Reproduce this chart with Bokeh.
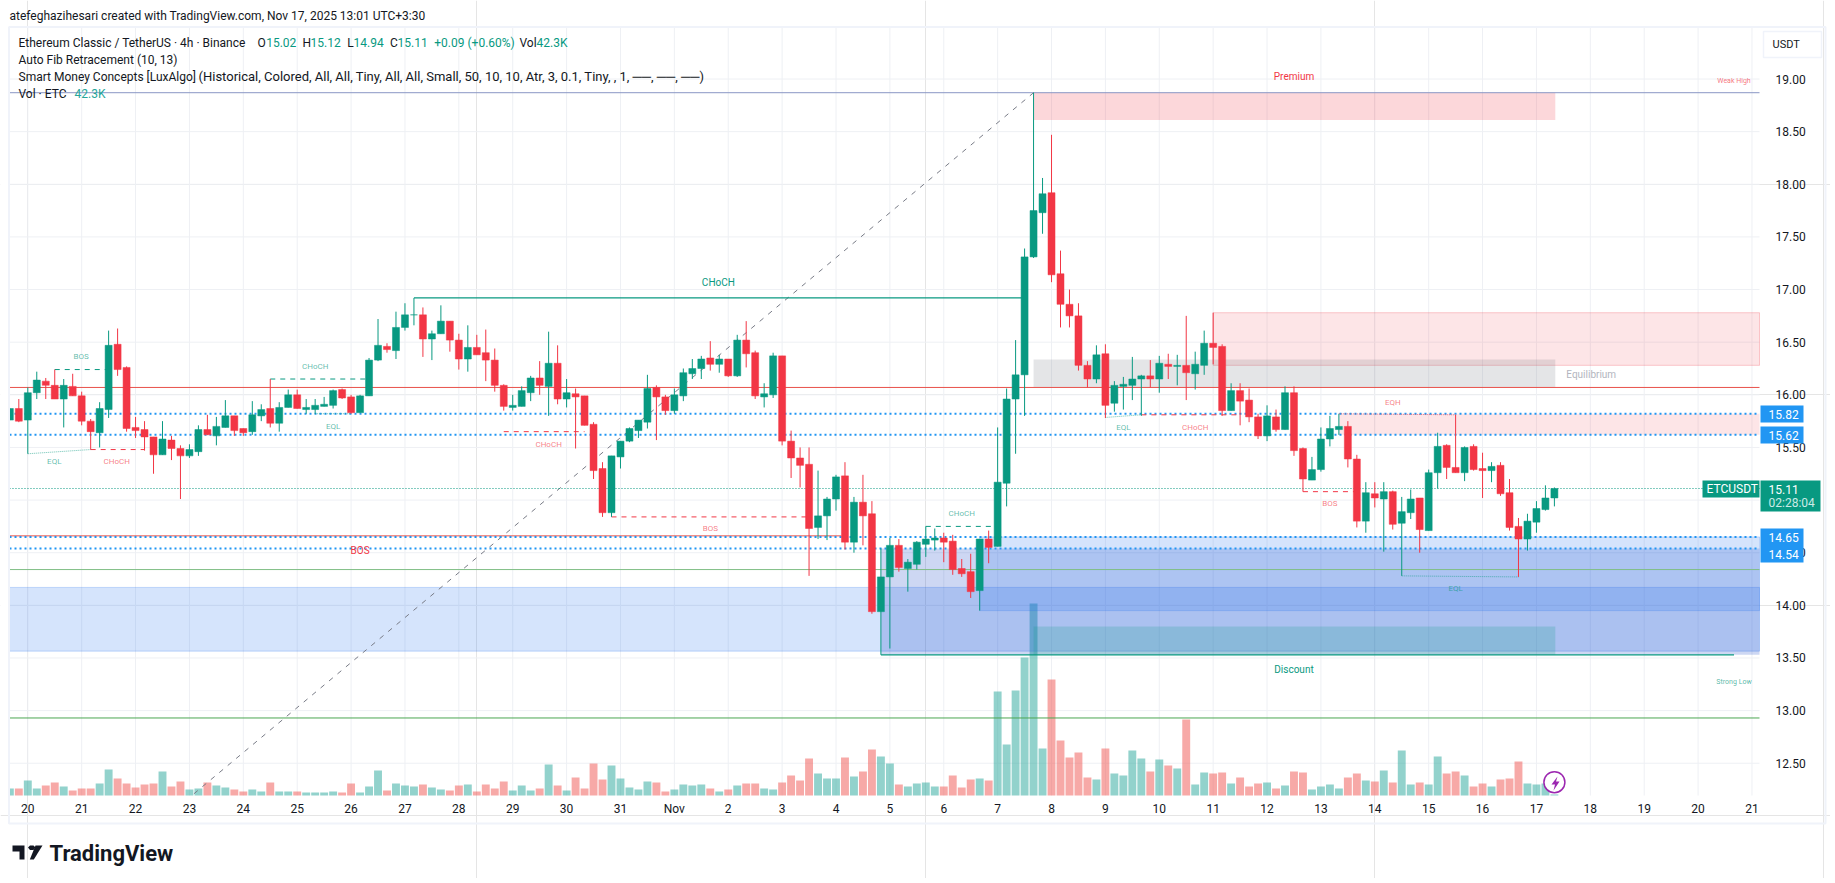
from bokeh.plotting import figure
from bokeh.models import (Range1d, FixedTicker, Label, LinearAxis, PolyAnnotation, ColumnDataSource)
from bokeh.core.properties import value
from bokeh.embed import file_html
from bokeh.resources import INLINE

# 4h candles of ETC/USDT, bar 0 is the Oct 20 open
bar_index = list(range(-2, 171))
opens = [15.76, 15.87, 15.76, 16.02, 16.13, 16.09, 15.96, 16.08, 15.99, 15.75, 15.64, 15.86, 16.48, 16.26, 15.69, 15.67, 15.60, 15.43, 15.57, 15.49, 15.42, 15.46, 15.67, 15.61, 15.69, 15.80, 15.68, 15.65, 15.80, 15.87, 15.73, 15.88, 16.00, 15.86, 15.86, 15.89, 15.90, 16.05, 15.98, 15.83, 15.99, 16.33, 16.46, 16.42, 16.64, 16.76, 16.76, 16.53, 16.58, 16.70, 16.52, 16.34, 16.45, 16.40, 16.33, 16.09, 15.88, 15.89, 16.02, 16.16, 16.08, 16.30, 15.96, 16.01, 15.99, 15.72, 15.30,
         14.88, 15.41, 15.56, 15.66, 15.74, 16.07, 15.98, 15.85, 15.99, 16.20, 16.25, 16.35, 16.29, 16.34, 16.18, 16.52, 16.40, 15.98, 16.00, 16.37, 15.56, 15.40, 15.34, 14.74, 14.85, 15.01, 15.23, 14.60, 14.98, 14.87, 13.94, 14.27, 14.57, 14.35, 14.39, 14.58, 14.62, 14.64, 14.61, 14.35, 14.32, 14.14, 14.63, 14.56, 15.16, 15.96, 16.19, 17.31, 17.73, 17.92, 17.15, 16.86, 16.75, 16.28, 16.15, 16.39, 15.92, 16.08, 16.09, 16.15, 16.18, 16.15, 16.29, 16.27, 16.28, 16.20, 16.28, 16.49, 16.46, 15.85, 16.04, 15.95, 15.79, 15.61, 15.79, 15.67, 16.02, 15.49, 15.19, 15.29, 15.58, 15.67, 15.70, 15.39, 14.80, 15.06, 15.01, 15.08, 14.78, 14.88, 15.02, 14.71, 15.26, 15.52, 15.31, 15.26, 15.51, 15.30, 15.28, 15.33, 15.07, 14.75, 14.63, 14.79, 14.91, 15.02]
highs = [15.87, 15.96, 16.07, 16.22, 16.16, 16.24, 16.15, 16.20, 16.03, 15.77, 15.93, 16.61, 16.63, 16.27, 15.79, 15.75, 15.60, 15.75, 15.61, 15.52, 15.53, 15.71, 15.81, 15.79, 15.95, 15.80, 15.68, 15.94, 15.91, 16.15, 15.93, 16.05, 16.05, 15.96, 15.96, 15.98, 16.05, 16.06, 16.00, 16.00, 16.35, 16.72, 16.49, 16.79, 16.87, 16.92, 16.83, 16.61, 16.85, 16.70, 16.58, 16.66, 16.57, 16.62, 16.44, 16.10, 16.00, 16.08, 16.18, 16.32, 16.60, 16.47, 16.15, 16.06, 15.99, 15.74, 15.36,
         15.42, 15.56, 15.69, 15.76, 16.19, 16.09, 16.00, 16.06, 16.25, 16.34, 16.37, 16.51, 16.38, 16.34, 16.57, 16.70, 16.42, 16.11, 16.40, 16.37, 15.66, 15.50, 15.50, 15.28, 15.03, 15.24, 15.36, 15.03, 15.24, 14.99, 14.54, 14.64, 14.63, 14.44, 14.61, 14.75, 14.73, 14.69, 14.67, 14.44, 14.49, 14.63, 14.71, 15.69, 16.06, 16.52, 17.39, 18.87, 18.06, 18.47, 17.37, 17.00, 16.87, 16.32, 16.47, 16.48, 16.13, 16.17, 16.36, 16.19, 16.33, 16.37, 16.39, 16.38, 16.75, 16.41, 16.61, 16.78, 16.48, 16.11, 16.11, 16.06, 15.82, 15.90, 15.86, 16.08, 16.08, 15.50, 15.41, 15.69, 15.80, 15.82, 15.75, 15.43, 15.17, 15.17, 15.17, 15.09, 15.03, 15.10, 15.02, 15.29, 15.64, 15.53, 15.81, 15.51, 15.53, 15.45, 15.36, 15.36, 15.20, 14.83, 14.87, 14.99, 15.14, 15.12]
lows = [15.76, 15.74, 15.44, 15.96, 15.96, 15.96, 15.69, 15.99, 15.71, 15.48, 15.50, 15.78, 16.18, 15.65, 15.59, 15.47, 15.25, 15.43, 15.38, 15.01, 15.40, 15.42, 15.62, 15.52, 15.69, 15.61, 15.61, 15.62, 15.75, 15.69, 15.65, 15.88, 15.87, 15.82, 15.82, 15.89, 15.87, 15.96, 15.82, 15.83, 15.99, 16.32, 16.40, 16.34, 16.61, 16.66, 16.36, 16.33, 16.58, 16.41, 16.24, 16.22, 16.38, 16.13, 16.03, 15.85, 15.85, 15.89, 15.94, 16.00, 15.80, 15.91, 15.88, 15.49, 15.71, 15.20, 14.84,
        14.84, 15.30, 15.55, 15.59, 15.68, 15.57, 15.81, 15.82, 15.94, 16.15, 16.15, 16.23, 16.21, 16.17, 16.17, 16.26, 15.96, 15.88, 15.97, 15.52, 15.21, 15.12, 14.28, 14.63, 14.62, 14.90, 14.53, 14.50, 14.57, 13.92, 13.53, 13.59, 14.32, 14.13, 14.34, 14.46, 14.52, 14.41, 14.29, 14.27, 14.07, 13.95, 14.40, 14.56, 14.94, 15.44, 15.80, 17.30, 17.53, 17.07, 16.64, 16.64, 16.23, 16.07, 16.11, 15.78, 15.84, 15.86, 15.95, 15.80, 16.07, 16.02, 16.15, 16.09, 15.95, 16.05, 16.19, 16.29, 15.80, 15.85, 15.71, 15.74, 15.58, 15.56, 15.65, 15.67, 15.42, 15.08, 15.19, 15.27, 15.51, 15.62, 15.31, 14.74, 14.69, 14.93, 14.51, 14.72, 14.28, 14.82, 14.50, 14.71, 15.11, 15.20, 15.26, 15.18, 15.28, 15.02, 15.17, 15.04, 14.71, 14.27, 14.52, 14.69, 14.90, 14.94]
closes = [15.87, 15.75, 16.02, 16.14, 16.09, 15.96, 16.09, 15.99, 15.75, 15.65, 15.87, 16.47, 16.24, 15.68, 15.66, 15.60, 15.43, 15.58, 15.49, 15.42, 15.48, 15.67, 15.62, 15.70, 15.80, 15.66, 15.64, 15.81, 15.86, 15.73, 15.88, 16.00, 15.87, 15.88, 15.90, 15.91, 16.04, 15.97, 15.83, 15.99, 16.33, 16.47, 16.43, 16.64, 16.76, 16.76, 16.53, 16.58, 16.70, 16.52, 16.34, 16.45, 16.38, 16.33, 16.09, 15.89, 15.90, 16.04, 16.16, 16.09, 16.30, 15.96, 16.02, 15.98, 15.71, 15.28, 14.88,
          15.42, 15.56, 15.68, 15.76, 16.06, 15.98, 15.85, 16.00, 16.21, 16.25, 16.34, 16.29, 16.34, 16.18, 16.52, 16.39, 15.99, 16.01, 16.37, 15.56, 15.40, 15.33, 14.73, 14.85, 15.01, 15.22, 14.60, 14.98, 14.85, 13.94, 14.27, 14.57, 14.36, 14.41, 14.60, 14.63, 14.64, 14.60, 14.34, 14.30, 14.13, 14.63, 14.55, 15.17, 15.96, 16.19, 17.31, 17.75, 17.91, 17.14, 16.86, 16.75, 16.28, 16.15, 16.38, 15.90, 16.09, 16.10, 16.15, 16.18, 16.15, 16.30, 16.27, 16.28, 16.21, 16.29, 16.49, 16.45, 15.85, 16.04, 15.94, 15.79, 15.61, 15.80, 15.67, 16.02, 15.47, 15.20, 15.29, 15.58, 15.68, 15.70, 15.39, 14.80, 15.07, 15.02, 15.08, 14.77, 14.89, 15.01, 14.72, 15.26, 15.51, 15.31, 15.26, 15.50, 15.29, 15.28, 15.32, 15.06, 14.74, 14.63, 14.80, 14.92, 15.02, 15.11]
volumes_k = [273, 273, 585, 273, 390, 507, 351, 195, 273, 273, 468, 1014, 663, 468, 312, 429, 468, 936, 351, 546, 234, 273, 507, 390, 312, 234, 156, 234, 156, 507, 156, 156, 156, 117, 117, 117, 156, 117, 468, 117, 351, 975, 195, 468, 390, 351, 429, 312, 234, 195, 390, 429, 156, 429, 273, 546, 195, 390, 195, 273, 1209, 390, 195, 702, 273, 1248, 624,
             1170, 663, 312, 234, 546, 507, 156, 234, 429, 390, 429, 273, 156, 234, 390, 468, 468, 273, 234, 507, 780, 585, 1443, 858, 663, 663, 1482, 741, 936, 1794, 1521, 1248, 429, 351, 468, 507, 351, 351, 780, 312, 624, 663, 585, 4056, 1989, 4095, 5382, 7488, 1833, 4524, 2145, 1482, 1677, 702, 624, 1833, 858, 780, 1755, 1443, 936, 1404, 1170, 1053, 2964, 429, 897, 858, 897, 468, 702, 351, 468, 507, 273, 390, 936, 897, 234, 351, 429, 273, 702, 858, 585, 546, 975, 507, 1755, 429, 507, 429, 1521, 858, 936, 780, 351, 468, 351, 624, 663, 1326, 468, 429, 468, 42.3]

tick_labels = ["20", "21", "22", "23", "24", "25", "26", "27", "28", "29", "30", "31", "Nov", "2", "3", "4", "5", "6", "7", "8", "9", "10",
               "11", "12", "13", "14", "15", "16", "17", "18", "19", "20", "21"]
price_ticks = [12.5, 13.0, 13.5, 14.0, 14.5, 15.0, 15.5, 16.0, 16.5, 17.0, 17.5, 18.0, 18.5, 19.0]

UP = "#089981"
DOWN = "#F23645"
FONT = "Roboto"
INK = "#131722"
GRID = "#EEF0F4"

FIG_W, FIG_H = 1830, 878

# annotations get clipped to the frame, so the frame covers the whole page and the
# chart pane is only the part between these limits
PANE_L, PANE_R = -2.038, 192.84
PANE_B, PANE_T = 12.193, 19.489

p = figure(width=FIG_W, height=FIG_H, output_backend="svg", toolbar_location=None,
           x_range=Range1d(-3.04, 200.746), y_range=Range1d(11.405, 19.746),
           x_axis_location=None, y_axis_location=None, min_border=0, outline_line_color=None,
           background_fill_color="white", border_fill_color="white")
p.extra_y_ranges = {"vol": Range1d(-3237, 31005)}

# axes
day_ticks = [6 * n for n in range(len(tick_labels))]
xaxis = LinearAxis(fixed_location=PANE_B, ticker=FixedTicker(ticks=day_ticks),
                   major_label_overrides=dict(zip(day_ticks, tick_labels)), major_label_standoff=0)
yaxis = LinearAxis(fixed_location=PANE_R, ticker=FixedTicker(ticks=price_ticks),
                   major_label_overrides={t: f"{t:.2f}" for t in price_ticks}, major_label_standoff=10)
for ax in (xaxis, yaxis):
    ax.axis_line_color = None
    ax.major_tick_line_color = None
    ax.minor_tick_line_color = None
    ax.major_label_text_font = FONT
    ax.major_label_text_font_size = "12px"
    ax.major_label_text_color = INK
p.add_layout(xaxis, "below")
p.add_layout(yaxis, "right")

p.segment(day_ticks, PANE_B, day_ticks, PANE_T, line_color=GRID, line_width=1)
p.segment(PANE_L, price_ticks, PANE_R, price_ticks, line_color=GRID, line_width=1)

# volume goes under the zones
vol_src = ColumnDataSource(dict(
    x=bar_index, top=volumes_k,
    color=["#26A69A" if c >= o else "#EF5350" for o, c in zip(opens, closes)]))
p.vbar(x="x", top="top", bottom=0, width=0.88, fill_color="color", line_color=None, fill_alpha=0.5,
       source=vol_src, y_range_name="vol")

# zones: left bar, right bar, top price, bottom price
zones = [
    (PANE_L, PANE_R, 14.17, 13.565, "#2E78F0", 0.2, "#2E78F0"),
    (95, PANE_R, 14.54, 13.53, "#0537C3", 0.2, None),
    (106, PANE_R, 14.65, 13.95, "#2E78F0", 0.2, "#2E78F0"),
    (112, 170.1, 18.87, 18.61, "#F23645", 0.2, None),
    (132, PANE_R, 16.78, 16.28, "#F23645", 0.13, "#F23645"),
    (146, PANE_R, 15.82, 15.62, "#F23645", 0.13, None),
    (112, 170.1, 16.335, 16.07, "#787B86", 0.2, None),
    (112, 170.1, 13.80, 13.53, "#089981", 0.2, None),
]
for left, right, top, bottom, color, alpha, edge in zones:
    p.quad(left=left, right=right, top=top, bottom=bottom, fill_color=color, fill_alpha=alpha,
           line_color=edge, line_alpha=0.25 if edge else 0, line_width=1)

# auto fib levels
fib_levels = [18.87, 16.07, 14.34, 12.93]
fib_colors = ["#8A96C4", "#E8504A", "#81BE86", "#4CA652"]
for lvl, col in zip(fib_levels, fib_colors):
    p.line([PANE_L, PANE_R], [lvl, lvl], line_color=col, line_width=1)
p.line([PANE_L, 90.6], [14.66, 14.66], line_color="#E8504A", line_width=1)
p.line([18.5, 112], [12.21, 18.87], line_color="#787B86", line_width=1, line_dash=[5, 6])

# blue dotted price lines
eq_levels = [15.82, 15.62, 14.65, 14.54]
for lvl in eq_levels:
    p.line([PANE_L, PANE_R], [lvl, lvl], line_color="#2196F3", line_width=2, line_dash=[2, 3])
p.line([PANE_L, PANE_R], [15.11, 15.11], line_color=UP, line_width=1, line_dash=[1, 2])

# smart money structure lines
solid_x0 = [43, 95]
solid_x1 = [110.7, 190]
solid_y = [16.92, 13.53]
p.segment(solid_x0, solid_y, solid_x1, solid_y, line_color=UP, line_width=1.2)

dash_x0 = [3, 27, 100, 7, 53, 65, 124, 142]
dash_x1 = [9, 38, 108, 13, 62, 86.7, 135, 148]
dash_y = [16.24, 16.15, 14.75, 15.48, 15.65, 14.84, 15.81, 15.08]
dash_col = [UP, UP, UP, DOWN, DOWN, DOWN, DOWN, DOWN]
p.segment(dash_x0, dash_y, dash_x1, dash_y, line_color=dash_col, line_width=1, line_dash=value([5, 5]))

eq_x0 = [0, 32, 120, 153, 146]
eq_x1 = [7, 36, 124, 166, 159]
eq_y0 = [15.44, 15.82, 15.785, 14.28, 15.82]
eq_y1 = [15.48, 15.82, 15.81, 14.27, 15.81]
eq_col = [UP, UP, UP, UP, DOWN]
p.segment(eq_x0, eq_y0, eq_x1, eq_y1, line_color=eq_col, line_width=1, line_dash=value([1, 1]), line_alpha=0.6)

# candles on top
candle_col = [UP if c >= o else DOWN for o, c in zip(opens, closes)]
candle_src = ColumnDataSource(dict(x=bar_index, o=opens, h=highs, l=lows, c=closes, col=candle_col))
p.segment("x", "h", "x", "l", line_color="col", line_width=1, source=candle_src)
p.vbar(x="x", top="o", bottom="c", width=0.78, fill_color="col", line_color="col", line_width=0.5, source=candle_src)

# tiny structure labels
tiny_text = ["BOS", "EQL", "CHoCH", "CHoCH", "EQL", "CHoCH", "BOS", "CHoCH", "EQL", "CHoCH", "BOS", "EQH", "EQL"]
tiny_x = [5.95, 2.95, 9.9, 32, 34, 58, 76, 104, 122, 130, 145, 152, 159]
tiny_y = [16.36, 15.37, 15.37, 16.27, 15.70, 15.53, 14.73, 14.87, 15.69, 15.69, 14.97, 15.93, 14.16]
tiny_col = [UP, UP, DOWN, UP, UP, DOWN, DOWN, UP, UP, DOWN, DOWN, DOWN, UP]
p.text(tiny_x, tiny_y, text=tiny_text, text_color=tiny_col, text_alpha=0.65, text_font=value(FONT),
       text_font_size="8px", text_align="center", text_baseline="middle")

big_text = ["CHoCH", "BOS", "Premium", "Discount", "Equilibrium"]
big_x = [76.9, 37, 141, 141, 174.1]
big_y = [17.07, 14.52, 19.02, 13.39, 16.195]
big_col = [UP, DOWN, DOWN, UP, "#B2B5BE"]
p.text(big_x, big_y, text=big_text, text_color=big_col, text_font=value(FONT), text_font_size="10px",
       text_align="center", text_baseline="middle")

side_text = ["Weak High", "Strong Low"]
side_y = [18.985, 13.275]
side_col = [DOWN, UP]
p.text([190, 190], side_y, text=side_text, text_color=side_col, text_alpha=0.7, text_font=value(FONT),
       text_font_size="7px", text_align="center", text_baseline="middle")

# news flash icon on the last bar
p.scatter([170], [12.32], size=21, marker="circle", fill_color="white", line_color="#9C27B0", line_width=1.5)


# page furniture is placed in browser pixels
def sy(py):
    return FIG_H - py


def page_text(text, px, py, color=INK, size="12px", **kw):
    p.add_layout(Label(x=px, y=sy(py), x_units="screen", y_units="screen", text=text, text_color=color,
                       text_font=FONT, text_font_size=size, text_baseline="middle", **kw))


def page_poly(pts, fill, line=None, width=1):
    p.add_layout(PolyAnnotation(xs=[a for a, b in pts], ys=[sy(b) for a, b in pts], xs_units="screen",
                                ys_units="screen", fill_color=fill, fill_alpha=1 if fill else 0,
                                line_color=line, line_width=width, line_alpha=1 if line else 0))


def rect(x0, y0, x1, y1):
    return [(x0, y0), (x1, y0), (x1, y1), (x0, y1)]


# cut the first half candle at the pane edge, then the pane border
page_poly(rect(0, 27, 8.5, 800), "white")
page_poly(rect(8.5, 26.5, 1825, 823), None, "#F0F3FA", 2)

# header + legend
page_text("atefeghazihesari created with TradingView.com, Nov 17, 2025 13:01 UTC+3:30", 9, 15)
page_text("Ethereum Classic / TetherUS · 4h · Binance", 18, 42)
for txt, x, col in [("O", 257, INK), ("15.02", 265.7, UP), ("H", 302, INK), ("15.12", 310, UP), ("L", 346.8, INK),
                    ("14.94", 353, UP), ("C", 389.5, INK), ("15.11", 397, UP), ("+0.09 (+0.60%)", 433.8, UP),
                    ("Vol", 519, INK), ("42.3K", 536, UP)]:
    page_text(txt, x, 42, col)
page_text("Auto Fib Retracement (10, 13)", 18, 59)
page_text("Smart Money Concepts [LuxAlgo]", 18, 76)
page_text("(Historical, Colored, All, All, Tiny, All, All, Small, 50, 10, 10, Atr, 3, 0.1, Tiny, , 1, ──, ──, ──)", 198, 76, INK, "13px")
page_text("Vol · ETC", 18, 93)
page_text("42.3K", 74, 93, "#26A69A")

# price scale tags
page_poly(rect(1760, 405, 1803, 422), "#2196F3")
page_text("15.82", 1768, 413.5, "white")
page_poly(rect(1760, 426, 1803, 443), "#2196F3")
page_text("15.62", 1768, 434.5, "white")
page_poly(rect(1760, 528, 1803, 562), "#2196F3")
page_text("14.65", 1768, 536.5, "white")
page_text("14.54", 1768, 553.7, "white")
page_poly(rect(1702, 480, 1759, 497), UP)
page_text("ETCUSDT", 1706, 488.5, "white")
page_poly(rect(1760, 480, 1820, 511), UP)
page_text("15.11", 1768, 488.7, "white")
page_text("02:28:04", 1768, 502.7, "#CCEBE6")

# currency button
page_text("USDT", 1772, 44, INK, "11px")
page_poly(rect(1763, 31, 1821, 57), None, "#F0F3FA", 1.5)

page_poly([(1557, 776), (1551, 784), (1554.5, 784), (1553, 790), (1559, 781), (1555.5, 781)], "#9C27B0")

# logo
page_poly([(12, 845), (24, 845), (24, 859), (19, 859), (19, 851), (12, 851)], "#131722")
page_poly([(29.5, 845), (33, 845), (35, 847), (33, 849.5), (29.5, 849.5), (27.5, 847)], "#131722")
page_poly([(35, 845), (42, 845), (33.3, 859), (29.3, 859)], "#131722")
page_text("TradingView", 49, 853, "#131722", "22px", text_font_style="bold")

open("out.html", "w").write(file_html(p, INLINE))
